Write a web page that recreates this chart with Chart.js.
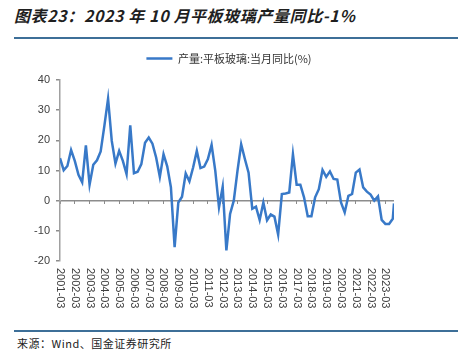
<!DOCTYPE html>
<html>
<head>
<meta charset="utf-8">
<script src="https://cdn.jsdelivr.net/npm/chart.js@4"></script>
<style>
body { margin: 0; width: 458px; height: 363px; background: #fff; position: relative; overflow: hidden; font-family: "Noto Sans CJK SC", sans-serif; }
#title { position: absolute; left: 14px; top: 3px; font-size: 16px; letter-spacing: 0.6px; font-weight: bold; font-style: italic; color: #1f1f1f; white-space: nowrap; }
.rule { position: absolute; left: 14px; right: 0; height: 2px; background: #3d6f98; }
#source { position: absolute; left: 17px; top: 335px; font-size: 11px; letter-spacing: 0.5px; color: #222; white-space: nowrap; }
#wrap { position: absolute; left: 0; top: 30px; width: 458px; height: 291px; }
</style>
</head>
<body>
<div id="title">图表23：2023 年 10 月平板玻璃产量同比-1%</div>
<div class="rule" style="top:37px"></div>
<div id="wrap"><canvas id="glassChart"></canvas></div>
<div class="rule" style="top:330px"></div>
<div id="source">来源：Wind、国金证券研究所</div>
<script>
const seriesName = '产量:平板玻璃:当月同比(%)'

const dates = [
  '2001-03', '2001-06', '2001-09', '2001-12', '2002-03', '2002-06', '2002-09', '2002-12',
  '2003-03', '2003-06', '2003-09', '2003-12', '2004-03', '2004-06', '2004-09', '2004-12',
  '2005-03', '2005-06', '2005-09', '2005-12', '2006-03', '2006-06', '2006-09', '2006-12',
  '2007-03', '2007-06', '2007-09', '2007-12', '2008-03', '2008-06', '2008-09', '2008-12',
  '2009-03', '2009-06', '2009-09', '2009-12', '2010-03', '2010-06', '2010-09', '2010-12',
  '2011-03', '2011-06', '2011-09', '2011-12', '2012-03', '2012-06', '2012-09', '2012-12',
  '2013-03', '2013-06', '2013-09', '2013-12', '2014-03', '2014-06', '2014-09', '2014-12',
  '2015-03', '2015-06', '2015-09', '2015-12', '2016-03', '2016-06', '2016-09', '2016-12',
  '2017-03', '2017-06', '2017-09', '2017-12', '2018-03', '2018-06', '2018-09', '2018-12',
  '2019-03', '2019-06', '2019-09', '2019-12', '2020-03', '2020-06', '2020-09', '2020-12',
  '2021-03', '2021-06', '2021-09', '2021-12', '2022-03', '2022-06', '2022-09', '2022-12',
  '2023-03', '2023-06', '2023-09', '2023-10'
]

const yoy = [
  14.1, 10.1, 11.5, 16.8, 13.2, 8.6, 6.1, 18.3,
  5.3, 11.9, 13.4, 16.3, 24.8, 33.8, 19.8, 12.3,
  16.5, 13.2, 8.8, 25.0, 9.1, 9.6, 12.1, 19.2,
  20.9, 18.9, 14.3, 7.9, 15.4, 11.4, 4.4, -15.4,
  -0.6, 1.3, 9.0, 6.4, 11.0, 16.5, 10.8, 11.3,
  13.8, 18.5, 9.9, -2.2, 4.6, -16.5, -4.4, 0.0,
  9.9, 18.7, 13.8, 9.3, -2.7, -2.0, -6.4, -0.6,
  -6.5, -4.6, -5.3, -11.2, 2.2, 2.4, 2.7, 15.4,
  5.3, 5.3, 1.1, -5.2, -5.2, 1.1, 3.8, 10.2,
  7.9, 9.7, 7.2, 7.0, -0.6, -3.9, 1.6, 2.2,
  9.3, 10.3, 4.4, 3.0, 2.0, 0.0, 1.4, -6.4,
  -7.7, -7.7, -6.0, -0.9
]

const tickLabels = [
  '2001-03', '2002-03', '2003-03', '2004-03', '2005-03', '2006-03', '2007-03', '2008-03',
  '2009-03', '2010-03', '2011-03', '2012-03', '2013-03', '2014-03', '2015-03', '2016-03',
  '2017-03', '2018-03', '2019-03', '2020-03', '2021-03', '2022-03', '2023-03'
]

const yTicks = [-20, -10, 0, 10, 20, 30, 40]

// months counted from 2001-03, so the last monthly point sits closer
function toMonth (d) {
  const [y, m] = d.split('-').map(Number)
  return (y - 2001) * 12 + (m - 3)
}

function labelFor (v) {
  return tickLabels.find((d) => toMonth(d) === v) || ''
}

const tickFont = '11px "Liberation Sans", Arial, sans-serif'
const textColor = '#404040'
const axisGray = '#8c8c8c'

const rotatedLabels = {
  id: 'rotatedLabels',
  beforeLayout (chart) {
    // a bit more room under the legend
    const legend = chart.legend
    if (legend && !legend._extraRoom) {
      const fit = legend.fit
      legend.fit = function () {
        fit.call(this)
        this.height += 6
      }
      legend._extraRoom = true
    }
  },
  // draw the x labels turned clockwise, reading top to bottom
  afterDraw (chart) {
    const sx = chart.scales.x
    const ctx = chart.ctx
    ctx.save()
    ctx.font = tickFont
    ctx.fillStyle = textColor
    ctx.textAlign = 'left'
    ctx.textBaseline = 'middle'
    for (const t of sx.ticks) {
      ctx.save()
      ctx.translate(sx.getPixelForValue(t.value), chart.chartArea.bottom + 7)
      ctx.rotate(Math.PI / 2)
      ctx.fillText(labelFor(t.value), 0, 0)
      ctx.restore()
    }
    ctx.restore()
  }
}

const xMin = toMonth(dates[0])
const xMax = toMonth(dates[dates.length - 1])

const buildYearTicks = (scale) => {
  scale.ticks = tickLabels.map((d) => ({ value: toMonth(d) }))
}

new Chart(document.getElementById('glassChart').getContext('2d'), {
  type: 'line',
  data: {
    datasets: [{
      label: seriesName,
      data: dates.map((d, i) => ({ x: toMonth(d), y: yoy[i] })),
      borderColor: '#3879c8',
      backgroundColor: '#3879c8',
      borderWidth: 2.5,
      pointRadius: 0,
      tension: 0,
      fill: false
    }]
  },
  options: {
    responsive: true,
    maintainAspectRatio: false,
    animation: false,
    layout: { padding: { top: 4, right: 0, left: 0, bottom: 0 } },
    plugins: {
      legend: {
        position: 'top',
        labels: {
          usePointStyle: true,
          pointStyle: 'line',
          pointStyleWidth: 26,
          padding: 19,
          color: '#333',
          font: { size: 11, family: '"Noto Sans CJK SC", sans-serif' }
        }
      },
      tooltip: { enabled: false }
    },
    scales: {
      x: {
        type: 'linear',
        min: xMin,
        max: xMax,
        afterBuildTicks: buildYearTicks,
        grid: { display: false },
        border: { display: false },
        ticks: { display: false },
        afterFit: (s) => { s.height = 60 }
      },
      x2: {
        type: 'linear',
        position: { y: 0 },
        min: xMin,
        max: xMax,
        afterBuildTicks: buildYearTicks,
        grid: { drawOnChartArea: false, drawTicks: true, tickLength: 3, color: axisGray },
        border: { display: false },
        ticks: { display: true, color: 'transparent', font: { size: 1 } }
      },
      y: {
        min: -20,
        max: 40,
        afterBuildTicks: (scale) => { scale.ticks = yTicks.map((v) => ({ value: v })) },
        afterFit: (s) => { s.width = 60 },
        grid: {
          drawTicks: true,
          tickLength: 4,
          tickColor: axisGray,
          lineWidth: 1.5,
          color: (c) => (c.tick && c.tick.value === 0 ? axisGray : 'transparent')
        },
        border: { display: true, color: '#a0a0a0', width: 1.5 },
        ticks: {
          padding: 6,
          color: textColor,
          font: { size: 11, family: '"Liberation Sans", Arial, sans-serif' }
        }
      },
      // empty right-hand gutter, keeps the legend centred on the page
      yRight: {
        position: 'right',
        display: true,
        min: -20,
        max: 40,
        grid: { display: false },
        border: { display: false },
        ticks: { display: false },
        afterFit: (s) => { s.width = 64 }
      }
    }
  },
  plugins: [rotatedLabels]
})
</script>
</body>
</html>
